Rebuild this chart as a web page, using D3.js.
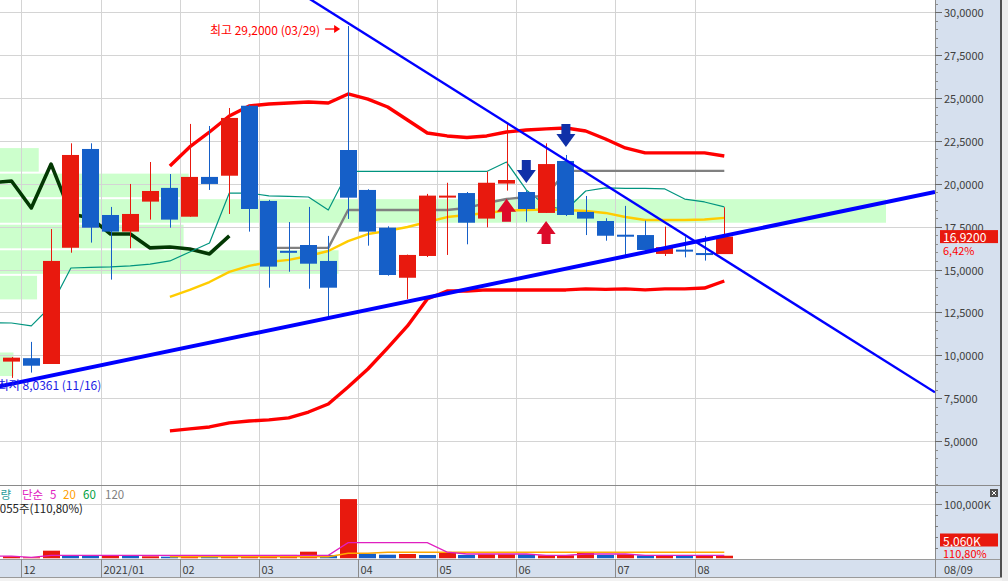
<!DOCTYPE html>
<html><head><meta charset="utf-8">
<script src="https://cdn.jsdelivr.net/npm/d3@7/dist/d3.min.js"></script>
<style>
html,body{margin:0;padding:0;background:#fff;overflow:hidden}
svg{display:block}
text{font-family:"Noto Sans CJK KR","Noto Sans",sans-serif}
</style></head><body>
<svg id="chart" width="1008" height="581"></svg>
<script>
// ---------- DATA ----------
const weeks = ["2020/11/30","2020/12/07","2020/12/14","2020/12/21","2020/12/28","2021/01/04","2021/01/11","2021/01/18","2021/01/25",
  "2021/02/01","2021/02/08","2021/02/15","2021/02/22","2021/03/01","2021/03/08","2021/03/15","2021/03/22","2021/03/29",
  "2021/04/05","2021/04/12","2021/04/19","2021/04/26","2021/05/03","2021/05/10","2021/05/17","2021/05/24","2021/05/31",
  "2021/06/07","2021/06/14","2021/06/21","2021/06/28","2021/07/05","2021/07/12","2021/07/19","2021/07/26","2021/08/02","2021/08/09"];
const open  = [9.63,9.83,9.49,16.27,22.03,18.18,17.21,18.96,19.76,18.08,20.40,20.47,24.55,19.00,16.09,16.43,15.50,21.97,19.64,17.44,14.52,15.79,19.28,19.46,17.97,20.01,19.52,18.30,21.33,18.36,17.83,17.03,17.01,15.91,16.16,15.96,15.90];
const high  = [9.90,10.78,17.36,22.36,22.36,18.65,19.99,21.27,20.57,23.49,23.37,24.42,24.60,19.06,17.77,18.65,16.96,29.20,19.68,17.52,15.87,19.41,20.06,19.52,20.71,23.49,19.58,22.36,21.68,19.29,17.99,18.71,17.85,17.50,16.92,16.96,18.63];
const low   = [8.68,8.99,9.49,15.98,16.57,14.41,16.24,17.91,17.44,18.08,19.64,18.24,17.21,13.94,14.87,13.88,12.25,17.95,16.39,14.64,13.27,15.73,15.85,16.47,17.46,19.60,17.79,18.30,18.12,17.01,16.68,15.75,16.10,15.79,15.71,15.52,15.91];
const close = [9.86,9.39,15.50,21.68,17.44,17.21,18.24,19.58,17.91,20.40,19.99,23.84,18.53,15.17,16.08,15.34,13.94,19.19,17.21,14.68,15.85,19.31,19.31,17.73,20.06,20.22,18.53,21.15,18.18,17.97,16.97,17.01,16.14,16.30,16.14,15.90,16.92];

// upper / lower envelope (start at week index 8)
const bandStart = 8;
const upperBand = [21.04,22.15,23.02,23.95,24.54,24.65,24.71,24.77,24.71,25.24,24.94,24.48,23.72,22.96,22.79,22.70,22.79,23.02,23.14,23.20,23.25,23.08,22.61,22.09,21.80,21.80,21.80,21.80,21.62];
const lowerBand = [5.59,5.71,5.82,6.06,6.17,6.23,6.35,6.69,7.16,8.15,9.20,10.43,11.71,13.28,13.75,13.75,13.81,13.81,13.81,13.81,13.81,13.87,13.84,13.87,13.81,13.87,13.87,13.92,14.33];
// conversion line (teal), starts at index -1
const convStart = -1;
const conversion = [11.90,11.88,11.71,12.87,15.09,15.12,15.15,15.21,15.32,15.50,16.02,16.55,19.46,19.46,19.29,19.26,19.23,18.47,20.72,20.72,20.72,20.72,20.72,20.72,20.72,20.72,21.27,19.64,18.71,18.47,19.58,19.76,19.73,19.73,19.70,19.11,18.94,18.65];
// base line (gray), starts at index 13
const baseStart = 13;
const baseLine = [16.26,16.26,16.26,16.26,18.47,18.47,18.47,18.47,18.47,18.47,18.59,18.88,19.11,19.23,19.29,20.75,20.75,20.75,20.75,20.75,20.75,20.75,20.75,20.75];
// 20-week average (yellow), starts at index 8
const ma20Start = 8;
const ma20 = [13.40,13.81,14.27,14.86,15.21,15.44,15.56,15.79,16.08,16.66,17.07,17.25,17.48,17.77,18.06,18.18,18.30,18.44,18.47,18.50,18.47,18.41,18.30,18.06,17.89,17.89,17.89,17.92,18.01];
// lagging span (dark green), starts at index -1
const lagStart = -1;
const lagging = [20.06,20.16,18.59,21.15,18.24,18.01,17.07,17.07,16.26,16.31,16.20,15.91,16.96];

// trend lines: two anchor points each (week index, price)
const supportAnchors = [[-1, 8.09],[16, 12.17]];
const resistAnchors  = [[17, 29.37],[28, 21.38]];

// volume by price (price band lower bounds, share %)
const profileLow   = [8.73,10.22,11.71,13.20,14.69,16.18,17.67,19.16,20.65];
const profileShare = [0.8,0,0,2.2,20.1,10.9,52.6,11.2,2.3];
const profileBand  = 1.49;

// signals
const buySignals  = [25, 27];
const sellSignals = [26, 28];

// volume (K shares)
const volume = [4000,2200,14200,5800,5700,5900,5800,4000,3300,6400,3300,4000,4500,6400,6500,12400,6400,108000,8700,6900,8200,6400,10500,6400,7600,7700,7600,5800,5900,10500,6400,7600,5800,5900,5800,5900,5060];
const volUp = [1,1,1,0,0,1,0,1,0,1,0,1,1,1,1,1,0,1,0,0,1,0,1,0,1,1,0,1,1,1,0,1,0,1,0,1,1];
const volMa5Start = -1;
const volMa5 = [4500,4500,2200,5800,5800,5800,5800,5800,5800,5800,5800,5800,5800,5800,5800,5800,5800,5800,28700,28700,28700,28700,28700,11500,8200,8200,8200,8200,5800,5800,8200,8200,8200,5800,5800,5800,5800,5800];
const volMa20Start = 8;
const volMa20 = [3300,3300,3300,3300,3300,3300,3300,3300,3300,9500,9500,11400,11400,11400,11400,11400,11400,11400,11400,11400,11400,11400,11400,11400,11400,11400,11400,11400,11400];

// axis ticks
const priceTicks = [5,7.5,10,12.5,15,17.5,20,22.5,25,27.5,30];
const monthLabels = ["12","2021/01","02","03","04","05","06","07","08"];
const monthStart  = [1,5,9,13,18,22,26,31,35];
const lastDateLabel = "08/09";
const highText = "최고 29,2000 (03/29)";
const lowText = "최저 8,0361 (11/16)";
const lowValue = 8.0361, lowIndex = -1, highIndex = 17;
const lastChange = "6,42%";
const lastVolText = "5,060K", volRatioText = "110,80%";
const volLegend2 = "5,060,055주(110,80%)";

// ---------- LAYOUT ----------
const W = 1008, H = 581, plotR = 935, mainB = 485, volT = 486, volB = 558.5, axT = 559, axB = 578;
const RED = "#e8190e", BLUE = "#155fc8";
const svg = d3.select("#chart");
const x = d3.scaleLinear().domain([0, 36]).range([11.5, 724.3]);
const step = x(1) - x(0);
const bodyW = 17;
const y = d3.scaleLinear().domain([5, 30]).range([441.0, 12.3]);
const yv = d3.scaleLinear().domain([0, 100000]).range([volB, 503.5]);
const xp = d3.scaleLinear().domain([0, d3.max(profileShare)]).range([0, 886]);
const fmt4 = v => d3.format(".4f")(v).replace(".", ",");

const defs = svg.append("defs");
defs.append("clipPath").attr("id","cm").append("rect").attr("x",0).attr("y",0).attr("width",plotR).attr("height",mainB);
defs.append("clipPath").attr("id","cv").append("rect").attr("x",0).attr("y",volT).attr("width",plotR).attr("height",volB-volT);

svg.append("rect").attr("width",W).attr("height",H).attr("fill","#fff");
// right axis panel & x axis bar
svg.append("rect").attr("x",plotR).attr("y",0).attr("width",1000-plotR).attr("height",axT).attr("fill","#d6e0ee");
svg.append("rect").attr("x",0).attr("y",axT).attr("width",1000).attr("height",axB-axT).attr("fill","#d6e0ee");
svg.append("rect").attr("x",1000).attr("y",0).attr("width",2).attr("height",axB).attr("fill","#505050");
svg.append("rect").attr("x",1002).attr("y",0).attr("width",6).attr("height",H).attr("fill","#ececec");
svg.append("rect").attr("x",0).attr("y",axB).attr("width",1002).attr("height",H-axB).attr("fill","#f2f2f2");

const main = svg.append("g").attr("clip-path","url(#cm)");
const vol = svg.append("g").attr("clip-path","url(#cv)");

// volume by price bars
main.selectAll("rect.prof").data(profileLow.map((p,i)=>({p, s:profileShare[i]})).filter(d=>d.s>0))
  .enter().append("rect")
  .attr("x",0).attr("y",d=>y(d.p+profileBand)+1).attr("width",d=>xp(d.s))
  .attr("height",d=>y(d.p)-y(d.p+profileBand)-2).attr("fill","#ccffcc");

// grid
const monthX = monthStart.map(i => Math.round(x(i) - step/2) + 0.5);
main.selectAll("line.hg").data(priceTicks).enter().append("line")
  .attr("x1",0).attr("x2",plotR).attr("y1",d=>Math.round(y(d))+0.5).attr("y2",d=>Math.round(y(d))+0.5)
  .attr("stroke","#d4d4d4");
[main, vol].forEach(g => g.selectAll("line.vg").data(monthX).enter().append("line")
  .attr("x1",d=>d).attr("x2",d=>d).attr("y1",0).attr("y2",axT).attr("stroke","#d4d4d4"));
vol.append("line").attr("x1",0).attr("x2",plotR).attr("y1",Math.round(yv(100000))+0.5).attr("y2",Math.round(yv(100000))+0.5).attr("stroke","#d4d4d4");

// indicator lines
function series(vals, start){ return vals.map((v,k)=>({i:start+k, v})); }
const line = d3.line().x(d=>x(d.i)).y(d=>y(d.v));
function drawLine(vals, start, color, w){
  main.append("path").datum(series(vals,start)).attr("d",line).attr("fill","none")
    .attr("stroke",color).attr("stroke-width",w).attr("stroke-linejoin","round");
}
drawLine(lagging, lagStart, "#033803", 3.6);
drawLine(conversion, convStart, "#00947f", 1.2);
drawLine(ma20, ma20Start, "#ffcc00", 2.4);
drawLine(baseLine, baseStart, "#808080", 2.4);
drawLine(upperBand, bandStart, "#ff0000", 3.4);
drawLine(lowerBand, bandStart, "#ff0000", 3.4);

// candles
const cdata = weeks.map((w,i)=>({i, o:open[i], h:high[i], l:low[i], c:close[i]}));
const cg = main.selectAll("g.c").data(cdata).enter().append("g");
cg.append("line")
  .attr("x1",d=>Math.round(x(d.i))+0.5).attr("x2",d=>Math.round(x(d.i))+0.5)
  .attr("y1",d=>y(d.h)).attr("y2",d=>y(d.l))
  .attr("stroke",d=>d.c>=d.o?RED:BLUE).attr("stroke-width",1);
cg.append("rect")
  .attr("x",d=>Math.round(x(d.i)-bodyW/2)).attr("width",bodyW)
  .attr("y",d=>y(Math.max(d.o,d.c)))
  .attr("height",d=>Math.max(2, Math.abs(y(d.o)-y(d.c))))
  .attr("fill",d=>d.c>=d.o?RED:BLUE);

// trend lines
function trend(anchors, color, w){
  const [[i1,v1],[i2,v2]] = anchors;
  const slope = (v2-v1)/(i2-i1);
  const iA = x.invert(-20), iB = x.invert(plotR);
  main.append("line")
    .attr("x1",x(iA)).attr("y1",y(v1+slope*(iA-i1)))
    .attr("x2",x(iB)).attr("y2",y(v1+slope*(iB-i1)))
    .attr("stroke",color).attr("stroke-width",w);
}
trend(supportAnchors, "#0000ff", 4);
trend(resistAnchors, "#0000ff", 2.4);

// signal arrows
function arrow(cx, tip, dir){ // dir=1 up (tip at top), -1 down
  const p = [[0,0],[9.5,13],[4.5,13],[4.5,23],[-4.5,23],[-4.5,13],[-9.5,13]];
  return "M" + p.map(([a,b])=>[cx+a, tip+dir*b].join(",")).join("L") + "Z";
}
main.selectAll("path.buy").data(buySignals).enter().append("path")
  .attr("d",i=>arrow(x(i), y(low[i])+8, 1)).attr("fill","#dc0a2a");
main.selectAll("path.sell").data(sellSignals).enter().append("path")
  .attr("d",i=>arrow(x(i), y(high[i])-8, -1)).attr("fill","#1030a8");

// annotations
const hx = x(highIndex), hy = y(high[highIndex]) + 3;
main.append("text").attr("x",hx-28).attr("y",hy).attr("text-anchor","end").attr("dominant-baseline","central")
  .attr("font-size",12).attr("fill","#ff0000").text(highText);
main.append("line").attr("x1",hx-23).attr("x2",hx-12).attr("y1",hy).attr("y2",hy).attr("stroke","#ff0000").attr("stroke-width",1.3);
main.append("path").attr("d",`M${hx-8},${hy}L${hx-14},${hy-4}L${hx-14},${hy+4}Z`).attr("fill","#ff0000");
main.append("text").attr("x",x(lowIndex)+6).attr("y",y(lowValue)-4).attr("dominant-baseline","central")
  .attr("font-size",12).attr("fill","#1a1ae6").text(lowText);

// volume bars
vol.selectAll("rect.v").data(volume).enter().append("rect")
  .attr("x",(d,i)=>Math.round(x(i)-bodyW/2)).attr("width",bodyW)
  .attr("y",d=>yv(d)).attr("height",d=>volB-yv(d))
  .attr("fill",(d,i)=>volUp[i]?RED:BLUE);
const vline = d3.line().x(d=>x(d.i)).y(d=>yv(d.v));
vol.append("path").datum(series(volMa20,volMa20Start)).attr("d",vline).attr("fill","none").attr("stroke","#ffa800").attr("stroke-width",1.5);
vol.append("path").datum(series(volMa5,volMa5Start)).attr("d",vline).attr("fill","none").attr("stroke","#e020c0").attr("stroke-width",1.3);

// volume legend
const lg = svg.append("g").attr("font-size",11.5).attr("dominant-baseline","central");
lg.append("text").attr("x",11).attr("y",493.5).attr("text-anchor","end").attr("fill","#2a9d9a").text("거래량");
lg.append("text").attr("x",22).attr("y",493.5).attr("fill","#e020c0").text("단순");
lg.append("text").attr("x",50).attr("y",493.5).attr("fill","#e020c0").text("5");
lg.append("text").attr("x",63).attr("y",493.5).attr("fill","#ffa000").text("20");
lg.append("text").attr("x",83).attr("y",493.5).attr("fill","#00a040").text("60");
lg.append("text").attr("x",105).attr("y",493.5).attr("fill","#808080").text("120");
lg.append("text").attr("x",83).attr("y",507.5).attr("text-anchor","end").attr("fill","#222").text(volLegend2);

// separators
svg.append("line").attr("x1",0).attr("x2",1000).attr("y1",mainB+0.5).attr("y2",mainB+0.5).attr("stroke","#8a8a8a");
svg.append("line").attr("x1",0).attr("x2",1000).attr("y1",axT+0.5).attr("y2",axT+0.5).attr("stroke","#9a9a9a");
svg.append("line").attr("x1",0).attr("x2",1002).attr("y1",axB-0.5).attr("y2",axB-0.5).attr("stroke","#9a9a9a");
svg.append("line").attr("x1",plotR+0.5).attr("x2",plotR+0.5).attr("y1",0).attr("y2",axB).attr("stroke","#8a8a8a");

// right price axis
const ax = svg.append("g").attr("font-size",11).attr("fill","#404040");
const minor = d3.range(2.5, 30.75, 0.5);
ax.selectAll("line.mn").data(minor).enter().append("line")
  .attr("x1",plotR).attr("x2",plotR+3).attr("y1",d=>Math.round(y(d))+0.5).attr("y2",d=>Math.round(y(d))+0.5).attr("stroke","#8a8a8a");
ax.selectAll("line.mj").data(priceTicks).enter().append("line")
  .attr("x1",plotR).attr("x2",plotR+7).attr("y1",d=>Math.round(y(d))+0.5).attr("y2",d=>Math.round(y(d))+0.5).attr("stroke","#6a6a6a");
ax.selectAll("text.pt").data(priceTicks).enter().append("text")
  .attr("x",944).attr("y",d=>y(d)).attr("dominant-baseline","central").text(d=>fmt4(d));
// last price box
const lp = close[close.length-1];
svg.append("rect").attr("x",940).attr("y",y(lp)-6.5).attr("width",58).attr("height",13).attr("fill",RED);
svg.append("text").attr("x",943).attr("y",y(lp)).attr("dominant-baseline","central").attr("font-size",12).attr("fill","#fff").text(fmt4(lp));
svg.append("text").attr("x",943).attr("y",y(lp)+13).attr("dominant-baseline","central").attr("font-size",11).attr("fill","#ff0000").text(lastChange);

// volume axis
const vmin = d3.range(20000, 120001, 20000);
ax.selectAll("line.vm").data(vmin.filter(v=>yv(v)>volT+2)).enter().append("line")
  .attr("x1",plotR).attr("x2",d=>plotR+(d===100000?7:3)).attr("y1",d=>Math.round(yv(d))+0.5).attr("y2",d=>Math.round(yv(d))+0.5).attr("stroke","#7a7a7a");
ax.append("text").attr("x",944).attr("y",yv(100000)).attr("dominant-baseline","central").text("100,000K");
svg.append("rect").attr("x",940).attr("y",533.5).attr("width",58).attr("height",13).attr("fill",RED);
svg.append("text").attr("x",943).attr("y",540).attr("dominant-baseline","central").attr("font-size",12).attr("fill","#fff").text(lastVolText);
svg.append("text").attr("x",943).attr("y",552.5).attr("dominant-baseline","central").attr("font-size",11).attr("fill","#ff0000").text(volRatioText);
// close button
svg.append("rect").attr("x",990).attr("y",489).attr("width",8).attr("height",8).attr("fill","#505050");
svg.append("path").attr("d","M992,491L996,495M996,491L992,495").attr("stroke","#fff").attr("stroke-width",1);

// x axis
const xa = svg.append("g").attr("font-size",11).attr("fill","#404040");
xa.selectAll("line").data(monthX).enter().append("line")
  .attr("x1",d=>d).attr("x2",d=>d).attr("y1",axT).attr("y2",axB).attr("stroke","#8a8a8a");
xa.selectAll("text").data(monthLabels).enter().append("text")
  .attr("x",(d,k)=>monthX[k]+2).attr("y",568.5).attr("dominant-baseline","central").text(d=>d);
xa.append("text").attr("x",944).attr("y",568.5).attr("dominant-baseline","central").text(lastDateLabel);
</script>
</body></html>
